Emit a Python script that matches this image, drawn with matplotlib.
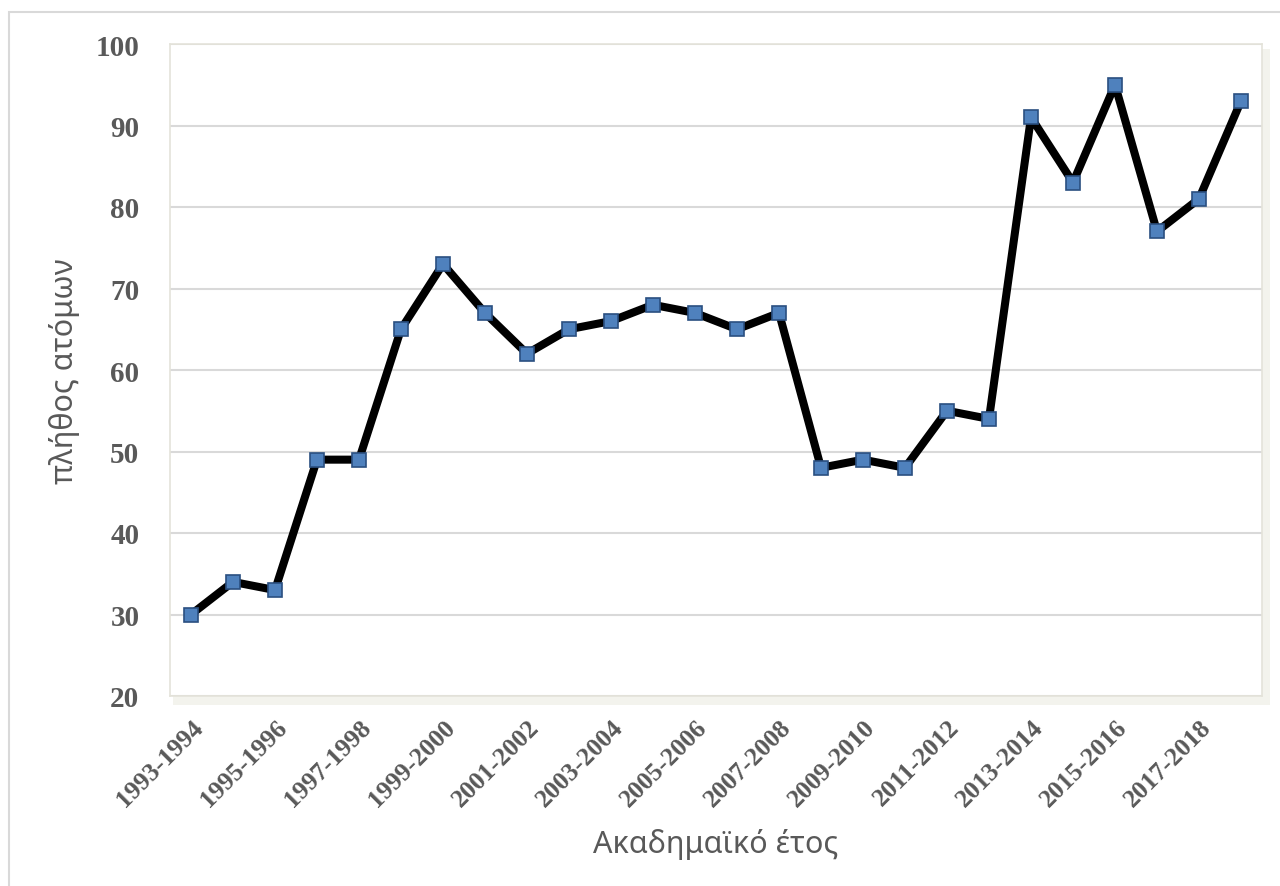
import matplotlib.pyplot as plt
from matplotlib.patches import Rectangle

# ακαδημαϊκά έτη και πλήθος ατόμων
years = [
    "1993-1994", "1994-1995", "1995-1996", "1996-1997", "1997-1998",
    "1998-1999", "1999-2000", "2000-2001", "2001-2002", "2002-2003",
    "2003-2004", "2004-2005", "2005-2006", "2006-2007", "2007-2008",
    "2008-2009", "2009-2010", "2010-2011", "2011-2012", "2012-2013",
    "2013-2014", "2014-2015", "2015-2016", "2016-2017", "2017-2018",
    "2018-2019",
]
counts = [30, 34, 33, 49, 49, 65, 73, 67, 62, 65, 66, 68, 67, 65, 67,
          48, 49, 48, 55, 54, 91, 83, 95, 77, 81, 93]
y_ticks = [20, 30, 40, 50, 60, 70, 80, 90, 100]

TEXT = "#595959"
W, H = 1280, 887

fig = plt.figure(figsize=(12.8, 8.87), dpi=100)
ax = fig.add_axes([170 / W, 1 - 697 / H, (1262 - 170) / W, (697 - 45) / H])
ax.set_zorder(3)

# εξωτερικό πλαίσιο
fig.patches.append(Rectangle((9 / W, -0.05), 1.2, 1 - 13 / H + 0.05,
                             transform=fig.transFigure, fill=False,
                             edgecolor="#d9d9d9", linewidth=1.5, zorder=1))
# απαλή σκιά κάτω από την περιοχή σχεδίασης
fig.patches.append(Rectangle((173 / W, 1 - 706 / H), (1270 - 173) / W, (706 - 50) / H,
                             transform=fig.transFigure, facecolor="#efeee6",
                             edgecolor="none", alpha=0.7, zorder=1))

x = list(range(len(years)))
ax.plot(x, counts, color="black", linewidth=5.8, marker="s", markersize=10.5,
        markerfacecolor="#4f81bd", markeredgecolor="#2a4f80", markeredgewidth=1.2,
        zorder=3)

ax.set_xlim(-0.5, len(years) - 0.5)
ax.set_ylim(20, 100)
ax.set_yticks(y_ticks)
ax.set_yticklabels([str(v) for v in y_ticks], family="Liberation Serif",
                   fontweight="bold", fontsize=21, color=TEXT)
ax.set_xticks(x[::2])
ax.set_xticklabels(years[::2], rotation=45, ha="right", rotation_mode="anchor",
                   family="Liberation Serif", fontweight="bold", fontsize=18.5,
                   color=TEXT)
ax.tick_params(axis="both", length=0)
ax.tick_params(axis="y", pad=22)
ax.tick_params(axis="x", pad=14)

ax.grid(axis="y", color="#d9d9d9", linewidth=1.5)
ax.set_axisbelow(True)
for s in ax.spines.values():
    s.set_color("#e4e3da")
    s.set_linewidth(1.2)
ax.set_facecolor("white")

ax.set_xlabel("Ακαδημαϊκό έτος", family=["Noto Sans", "DejaVu Sans"],
              fontsize=22, color=TEXT, labelpad=12)
ax.set_ylabel("πλήθος ατόμων", family=["Noto Sans", "DejaVu Sans"],
              fontsize=22, color=TEXT, labelpad=11)

fig.savefig("out.png", dpi=100)
